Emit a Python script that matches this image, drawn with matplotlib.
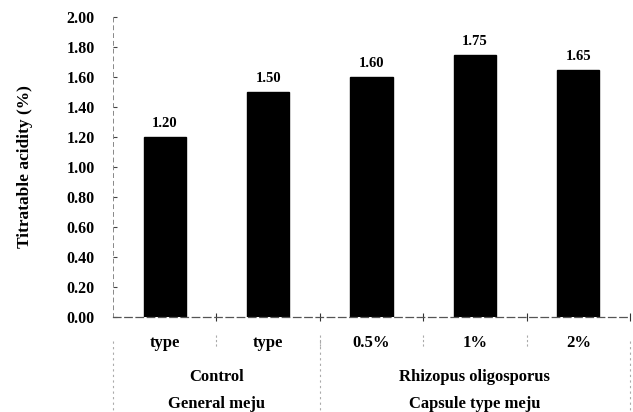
import matplotlib.pyplot as plt
import numpy as np

# data
sublabels = ["type", "type", "0.5%", "1%", "2%"]
mid_labels = ["Control", "Rhizopus oligosporus"]
top_labels = ["General meju", "Capsule type meju"]
group_sizes = [2, 3]
acidity = [1.20, 1.50, 1.60, 1.75, 1.65]

plt.rcParams["font.family"] = ["Liberation Serif", "DejaVu Serif"]
plt.rcParams["font.weight"] = "bold"

fig = plt.figure(figsize=(6.33, 4.12), dpi=100)
ax = fig.add_axes([113 / 633, 95 / 412, 517 / 633, 300 / 412])

x = np.arange(len(acidity)) + 0.5
ax.bar(x, acidity, width=0.41, color="black", edgecolor="black")
for xi, v in zip(x, acidity):
    ax.text(xi, v + 0.045, "%.2f" % v, ha="center", va="bottom",
            fontsize=10.5, fontweight="bold")

ax.set_xlim(0, len(acidity))
ax.set_ylim(0, 2.0)
ax.set_yticks(np.arange(0, 2.01, 0.2))
ax.set_yticklabels(["%.2f" % t for t in np.arange(0, 2.01, 0.2)],
                   fontsize=11.5, fontweight="bold")
ax.tick_params(axis="y", direction="in", length=3, width=0.8,
               color="#444444", pad=13)
ax.set_xticks(np.arange(1, len(acidity) + 1))
ax.set_xticklabels([])
ax.tick_params(axis="x", direction="inout", length=6, width=0.8,
               color="#333333")

for s in ["top", "right"]:
    ax.spines[s].set_visible(False)
ax.spines["left"].set_linestyle((0, (4, 4)))
ax.spines["left"].set_color("#888888")
ax.spines["left"].set_linewidth(0.7)
ax.spines["bottom"].set_linestyle((0, (6, 3)))
ax.spines["bottom"].set_color("#555555")
ax.spines["bottom"].set_linewidth(0.9)

ax.set_ylabel("Titratable acidity (%)", fontsize=12.5, fontweight="bold")
ax.yaxis.set_label_coords(-0.155, 0.5)

trans = ax.get_xaxis_transform()
row1, row2, row3 = -0.087, -0.2, -0.29

# first row labels
for xi, lab in zip(x, sublabels):
    ax.text(xi, row1, lab, transform=trans, ha="center", va="center",
            fontsize=12, fontweight="bold")

# short separators between bars
for b in range(1, len(acidity)):
    ax.plot([b, b], [-0.06, -0.1], transform=trans, clip_on=False,
            color="#aaaaaa", lw=0.8, ls=(0, (2, 2)))

# group labels
edges = np.concatenate([[0], np.cumsum(group_sizes)])
for i in range(len(group_sizes)):
    c = (edges[i] + edges[i + 1]) / 2
    ax.text(c, row2, mid_labels[i], transform=trans, ha="center",
            va="center", fontsize=12, fontweight="bold")
    ax.text(c, row3, top_labels[i], transform=trans, ha="center",
            va="center", fontsize=12, fontweight="bold")

for e in edges:
    ax.plot([e, e], [-0.08, -0.35], transform=trans, clip_on=False,
            color="#aaaaaa", lw=0.8, ls=(0, (2, 3)))

fig.savefig("out.png", dpi=100)
